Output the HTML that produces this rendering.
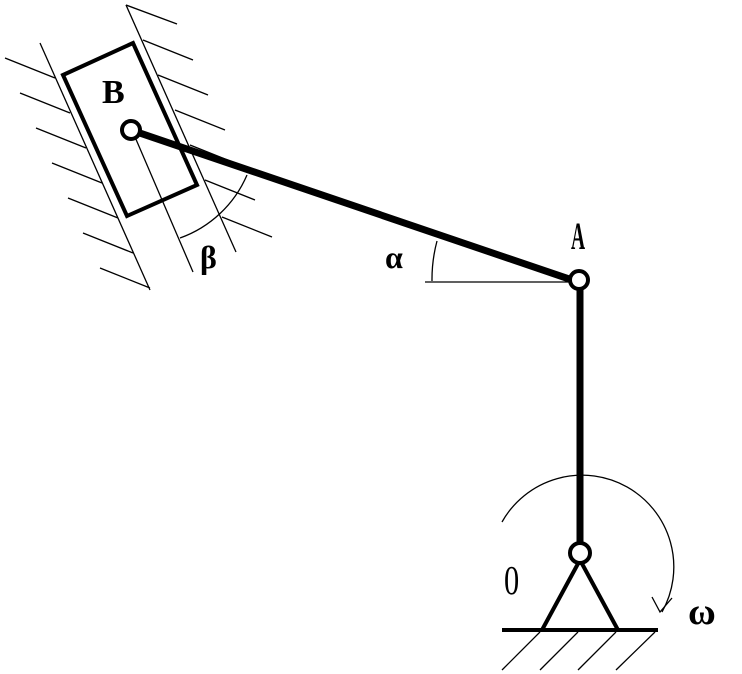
<!DOCTYPE html><html><head><style>body{margin:0;background:#fff}svg{display:block}</style></head><body>
<svg width="742" height="674" xmlns="http://www.w3.org/2000/svg" font-family="Liberation Serif, serif">
<g stroke="#000" fill="none" stroke-width="1.3">
<line x1="40" y1="43" x2="150" y2="290"/>
<line x1="126" y1="5" x2="236" y2="252"/>
<line x1="5" y1="58" x2="55" y2="78"/><line x1="20" y1="93" x2="70" y2="113"/><line x1="36" y1="128" x2="86" y2="148"/><line x1="52" y1="163" x2="102" y2="183"/><line x1="68" y1="198" x2="118" y2="218"/><line x1="83" y1="233" x2="133" y2="253"/><line x1="100" y1="268" x2="150" y2="288"/>
<line x1="126" y1="5" x2="177" y2="24"/><line x1="143" y1="40" x2="193" y2="60"/><line x1="158" y1="75" x2="208" y2="95"/><line x1="175" y1="110" x2="225" y2="130"/><line x1="190" y1="145" x2="240" y2="165"/><line x1="205" y1="180" x2="255" y2="200"/><line x1="222" y1="217" x2="272" y2="237"/>
<line x1="135" y1="137" x2="193" y2="272"/>
<path d="M180 238 A115 115 0 0 0 247 175"/>
<line x1="425" y1="282" x2="578" y2="282"/>
<path d="M432 281 A148 148 0 0 1 437 241"/>
<path d="M502 522 A85 85 0 1 1 662 612"/>
<path d="M652 597 L660 612 L672 598"/>
<line x1="502" y1="670" x2="540" y2="632"/><line x1="540" y1="670" x2="578" y2="632"/><line x1="578" y1="670" x2="616" y2="632"/><line x1="616" y1="670" x2="655" y2="632"/>
</g>
<polygon points="63,75 133,43 197,185 127,216" fill="none" stroke="#000" stroke-width="4"/>
<line x1="131" y1="130" x2="578" y2="282" stroke="#000" stroke-width="7"/>
<line x1="580" y1="282" x2="580" y2="553" stroke="#000" stroke-width="7"/>
<polyline points="542,630 580,560 618,630" fill="none" stroke="#000" stroke-width="4"/>
<line x1="502" y1="630" x2="658" y2="630" stroke="#000" stroke-width="4"/>
<circle cx="131" cy="130" r="9" fill="#fff" stroke="#000" stroke-width="4"/>
<circle cx="579" cy="280" r="9" fill="#fff" stroke="#000" stroke-width="4"/>
<circle cx="580" cy="553" r="10" fill="#fff" stroke="#000" stroke-width="4"/>
<text x="102" y="103" font-size="34" font-weight="bold">B</text>
<text transform="translate(571,249) scale(0.65,1.3)" font-size="30" font-weight="bold">A</text>
<text transform="translate(504,594) scale(0.95,1.3)" font-size="32">0</text>
<text x="200" y="268" font-size="32" font-weight="bold">β</text>
<text x="385" y="268" font-size="32" font-weight="bold">α</text>
<text x="688" y="624" font-size="38" font-weight="bold">ω</text>
</svg></body></html>
